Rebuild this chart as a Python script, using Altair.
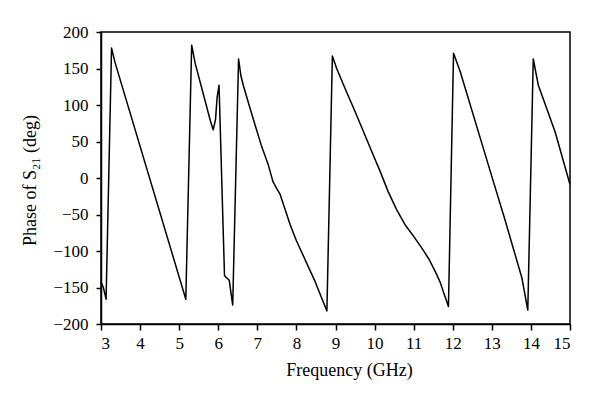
import altair as alt
import pandas as pd

freq = [3.00, 3.06, 3.13, 3.27, 3.36, 5.17, 5.32, 5.41, 5.80, 5.87, 5.93,
        5.97, 6.02, 6.16, 6.28, 6.37, 6.52, 6.58, 6.64, 6.80, 6.94, 7.10,
        7.28, 7.40, 7.50, 7.58, 7.66, 7.84, 8.00, 8.13, 8.30, 8.48, 8.65,
        8.78, 8.92, 9.03, 9.25, 9.50, 9.72, 9.93, 10.15, 10.35, 10.57,
        10.78, 11.00, 11.21, 11.40, 11.55, 11.68, 11.76, 11.84, 11.89,
        12.02, 12.19, 12.91, 13.34, 13.77, 13.92, 14.06, 14.19, 14.62, 15.00]
phase = [-142, -150, -166, 178, 158, -166, 182, 157, 78, 66, 80,
         110, 127, -134, -140, -174, 163, 140, 127, 98, 73, 45,
         18, -5, -15, -22, -35, -64, -86, -101, -121, -142, -165,
         -182, 167, 150, 122, 91, 63, 36, 8, -19, -44,
         -64, -80, -96, -112, -128, -143, -156, -168, -176,
         171, 146, 18, -58, -137, -181, 163, 127, 63, -9]

x_ticks = list(range(3, 16))
y_ticks = list(range(-200, 201, 50))

df = pd.DataFrame({"freq": freq, "phase": phase})

FONT = "Liberation Serif"

chart = alt.Chart(df).mark_line(color="black", strokeWidth=1.5,
                                strokeJoin="round").encode(
    x=alt.X("freq:Q",
            scale=alt.Scale(domain=[3, 15], nice=False, zero=False),
            axis=alt.Axis(values=x_ticks, title="Frequency (GHz)",
                          tickSize=6, labelPadding=5,
                          titleX=248, titleY=46, titleBaseline="middle",
                          titleAlign="center")),
    y=alt.Y("phase:Q",
            scale=alt.Scale(domain=[-200, 200], nice=False),
            axis=alt.Axis(values=y_ticks, title="Phase of S₂₁ (deg)",
                          tickSize=5, labelPadding=8,
                          titleX=-71, titleY=148, titleAngle=-90,
                          titleBaseline="middle", titleAlign="center")),
    order="freq:Q",
).properties(
    width=469, height=292,
    autosize=alt.AutoSizeParams(type="none"),
    padding={"left": 93, "top": 24, "right": 22, "bottom": 63},
).configure_view(
    stroke="black", strokeWidth=1.5
).configure_axis(
    grid=False, domainColor="black", domainWidth=1.5,
    tickColor="black", tickWidth=1.5,
    labelFont=FONT, labelFontSize=17, labelColor="black",
    titleFont=FONT, titleFontSize=18, titleFontWeight="normal",
    titleColor="black",
)

chart.save("out.html", embed_options={"renderer": "svg", "actions": False})
